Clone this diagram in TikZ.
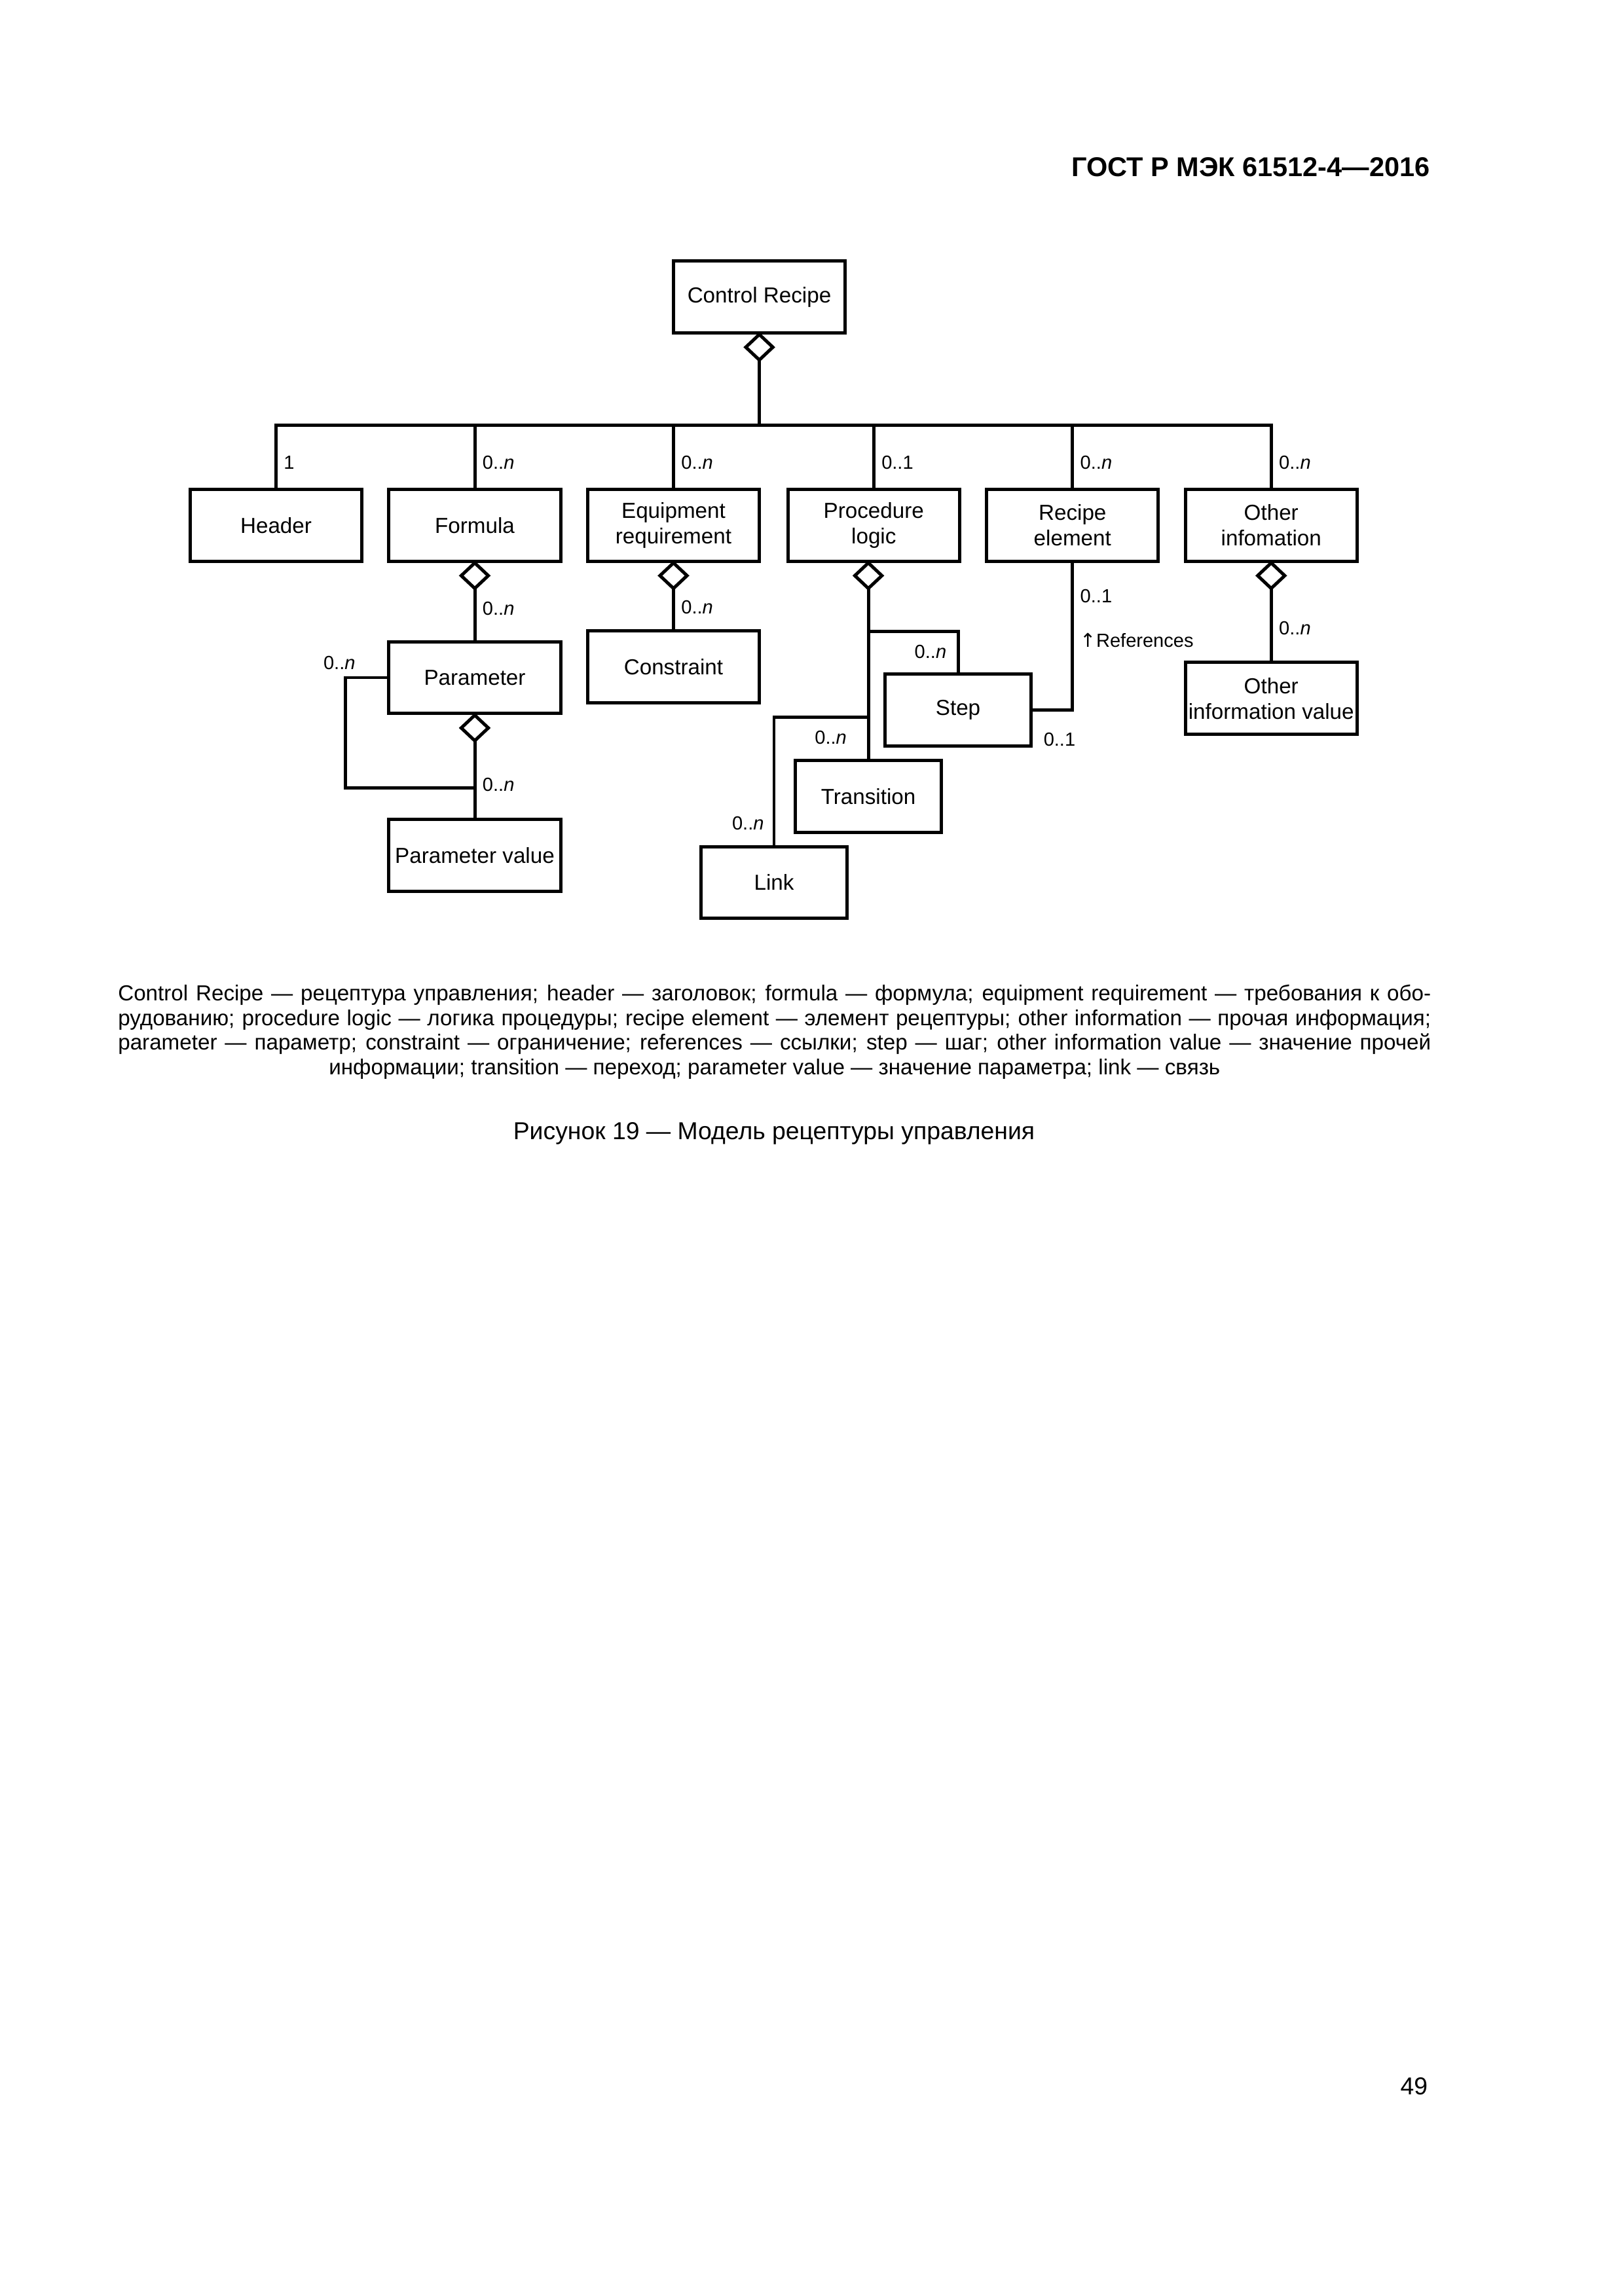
\documentclass[tikz,border=0pt]{standalone}
\usepackage{fontspec}
\setmainfont{Liberation Sans}
\newfontfamily\arrowfont{DejaVu Sans}
\usetikzlibrary{shapes.geometric}
\newcommand{\manyn}{0..\textit{n}}
\newcommand{\noteline}[1]{\hbox to 169.8mm{#1}}

\begin{document}
\begin{tikzpicture}[x=1mm, y=-1mm,
    box/.style={draw, line width=1.2pt, minimum width=22.2mm, minimum height=9.3mm,
        inner sep=0.2mm, align=center, font=\fontsize{8}{9.4}\selectfont},
    small/.style={box, minimum width=18.9mm},
    agg/.style={diamond, draw, line width=1.2pt, fill=white, minimum width=3.5mm,
        minimum height=3.3mm, inner sep=0pt, outer sep=0pt, anchor=north},
    conn/.style={line width=1.2pt},
    mult/.style={font=\fontsize{7}{8}\selectfont, inner sep=0.8mm}]
    \useasboundingbox (0,0) rectangle (210,297);

    % Шапка страницы
    \node[font=\fontsize{10}{12}\selectfont\bfseries, anchor=east, inner sep=0] (gost) at (185.0,21.6) {ГОСТ Р МЭК 61512-4—2016};

    % Блоки
    \node[box] (cr) at (98.2,38.4) {Control Recipe};
    \node[agg] (crd) at (cr.south) {};
    \coordinate (bus) at (98.2,55);

    \node[box] (hdr) at (35.7,67.95) {Header};
    \node[box] (frm) at (61.4,67.95) {Formula};
    \node[box] (eqp) at (87.1,67.95) {Equipment\\requirement};
    \node[box] (prc) at (113.0,67.95) {Procedure\\logic};
    \node[box] (rec) at (138.7,67.95) {Recipe\\element};
    \node[box] (oth) at (164.4,67.95) {Other\\infomation};

    \node[agg] (frmd) at (frm.south) {};
    \node[agg] (eqpd) at (eqp.south) {};
    \node[agg] (prcd) at ([xshift=-0.7mm]prc.south) {};
    \node[agg] (othd) at (oth.south) {};

    \node[box] (prm) at (61.4,87.65) {Parameter};
    \node[agg] (prmd) at (prm.south) {};
    \node[box] (pvl) at (61.4,110.65) {Parameter value};
    \node[box] (cst) at (87.1,86.25) {Constraint};
    \node[small] (stp) at (123.9,91.85) {Step};
    \node[small] (trn) at (112.3,103.05) {Transition};
    \node[small] (lnk) at (100.1,114.15) {Link};
    \node[box] (ovl) at (164.4,90.35) {Other\\information value};

    % Связи верхнего уровня
    \draw[conn] (crd.south) -- (bus);
    \draw[conn] (hdr.north) |- (bus) -| (oth.north);
    \foreach \b/\t in {hdr/1, frm/\manyn, eqp/\manyn, prc/0..1, rec/\manyn, oth/\manyn}
        \draw[conn] (\b.north) -- (\b.north |- bus) node[mult, pos=.4, right] {\t};

    % Связи второго уровня
    \draw[conn] (frmd.south) -- (prm.north) node[mult, pos=.39, right] {\manyn};
    \draw[conn] (eqpd.south) -- (cst.north) node[mult, pos=.46, right] {\manyn};
    \draw[conn] (othd.south) -- (ovl.north) node[mult, pos=.55, right] {\manyn};

    \coordinate (pj) at (61.4,101.9);
    \draw[conn] (prmd.south) -- (pvl.north) node[mult, pos=.57, right] {\manyn};
    \draw[conn] (prm.west) -- ++(-5.4,0) node[mult, above, xshift=-0.8mm] {\manyn} |- (pj);

    \coordinate (sj) at (112.3,81.7);
    \coordinate (lj) at (112.3,92.8);
    \draw[conn] (prcd.south) -- (trn.north) node[mult, pos=.873, left=1.8mm] {\manyn};
    \draw[conn] (sj) -| (stp.north) node[mult, pos=.75, left=0.5mm] {\manyn};
    \draw[conn] (lj) -| (lnk.north) node[mult, pos=.916, left=0.3mm] {\manyn};

    \draw[conn] (rec.south) |- (stp.east)
        node[mult, pos=.112, right] {0..1}
        node[mult, pos=.262, right] {{\arrowfont ↑}References}
        node[mult, pos=1, anchor=north west, xshift=0.4mm, yshift=-1.9mm] {0..1};

    % Пояснения
    \node[anchor=north west, inner sep=0, font=\fontsize{8}{9.1}\selectfont] (note) at (15.2,127.3)
        {\spaceskip=0.278em plus 0.3em minus 0.12em
        \vbox{\noteline{Control Recipe — рецептура управления; header — заголовок; formula — формула; equipment requirement — требования к обо-}
        \noteline{рудованию; procedure logic — логика процедуры; recipe element — элемент рецептуры; other information — прочая информация;}
        \noteline{parameter — параметр; constraint — ограничение; references — ссылки; step — шаг; other information value — значение прочей}
        \noteline{\hfil информации; transition — переход; parameter value — значение параметра; link — связь\hfil}}};

    \node[font=\fontsize{9}{11}\selectfont] (cap) at (100.1,146.6) {Рисунок 19 — Модель рецептуры управления};

    \node[font=\fontsize{9}{11}\selectfont, anchor=east, inner sep=0] (pg) at (184.7,269.9) {49};
\end{tikzpicture}
\end{document}
